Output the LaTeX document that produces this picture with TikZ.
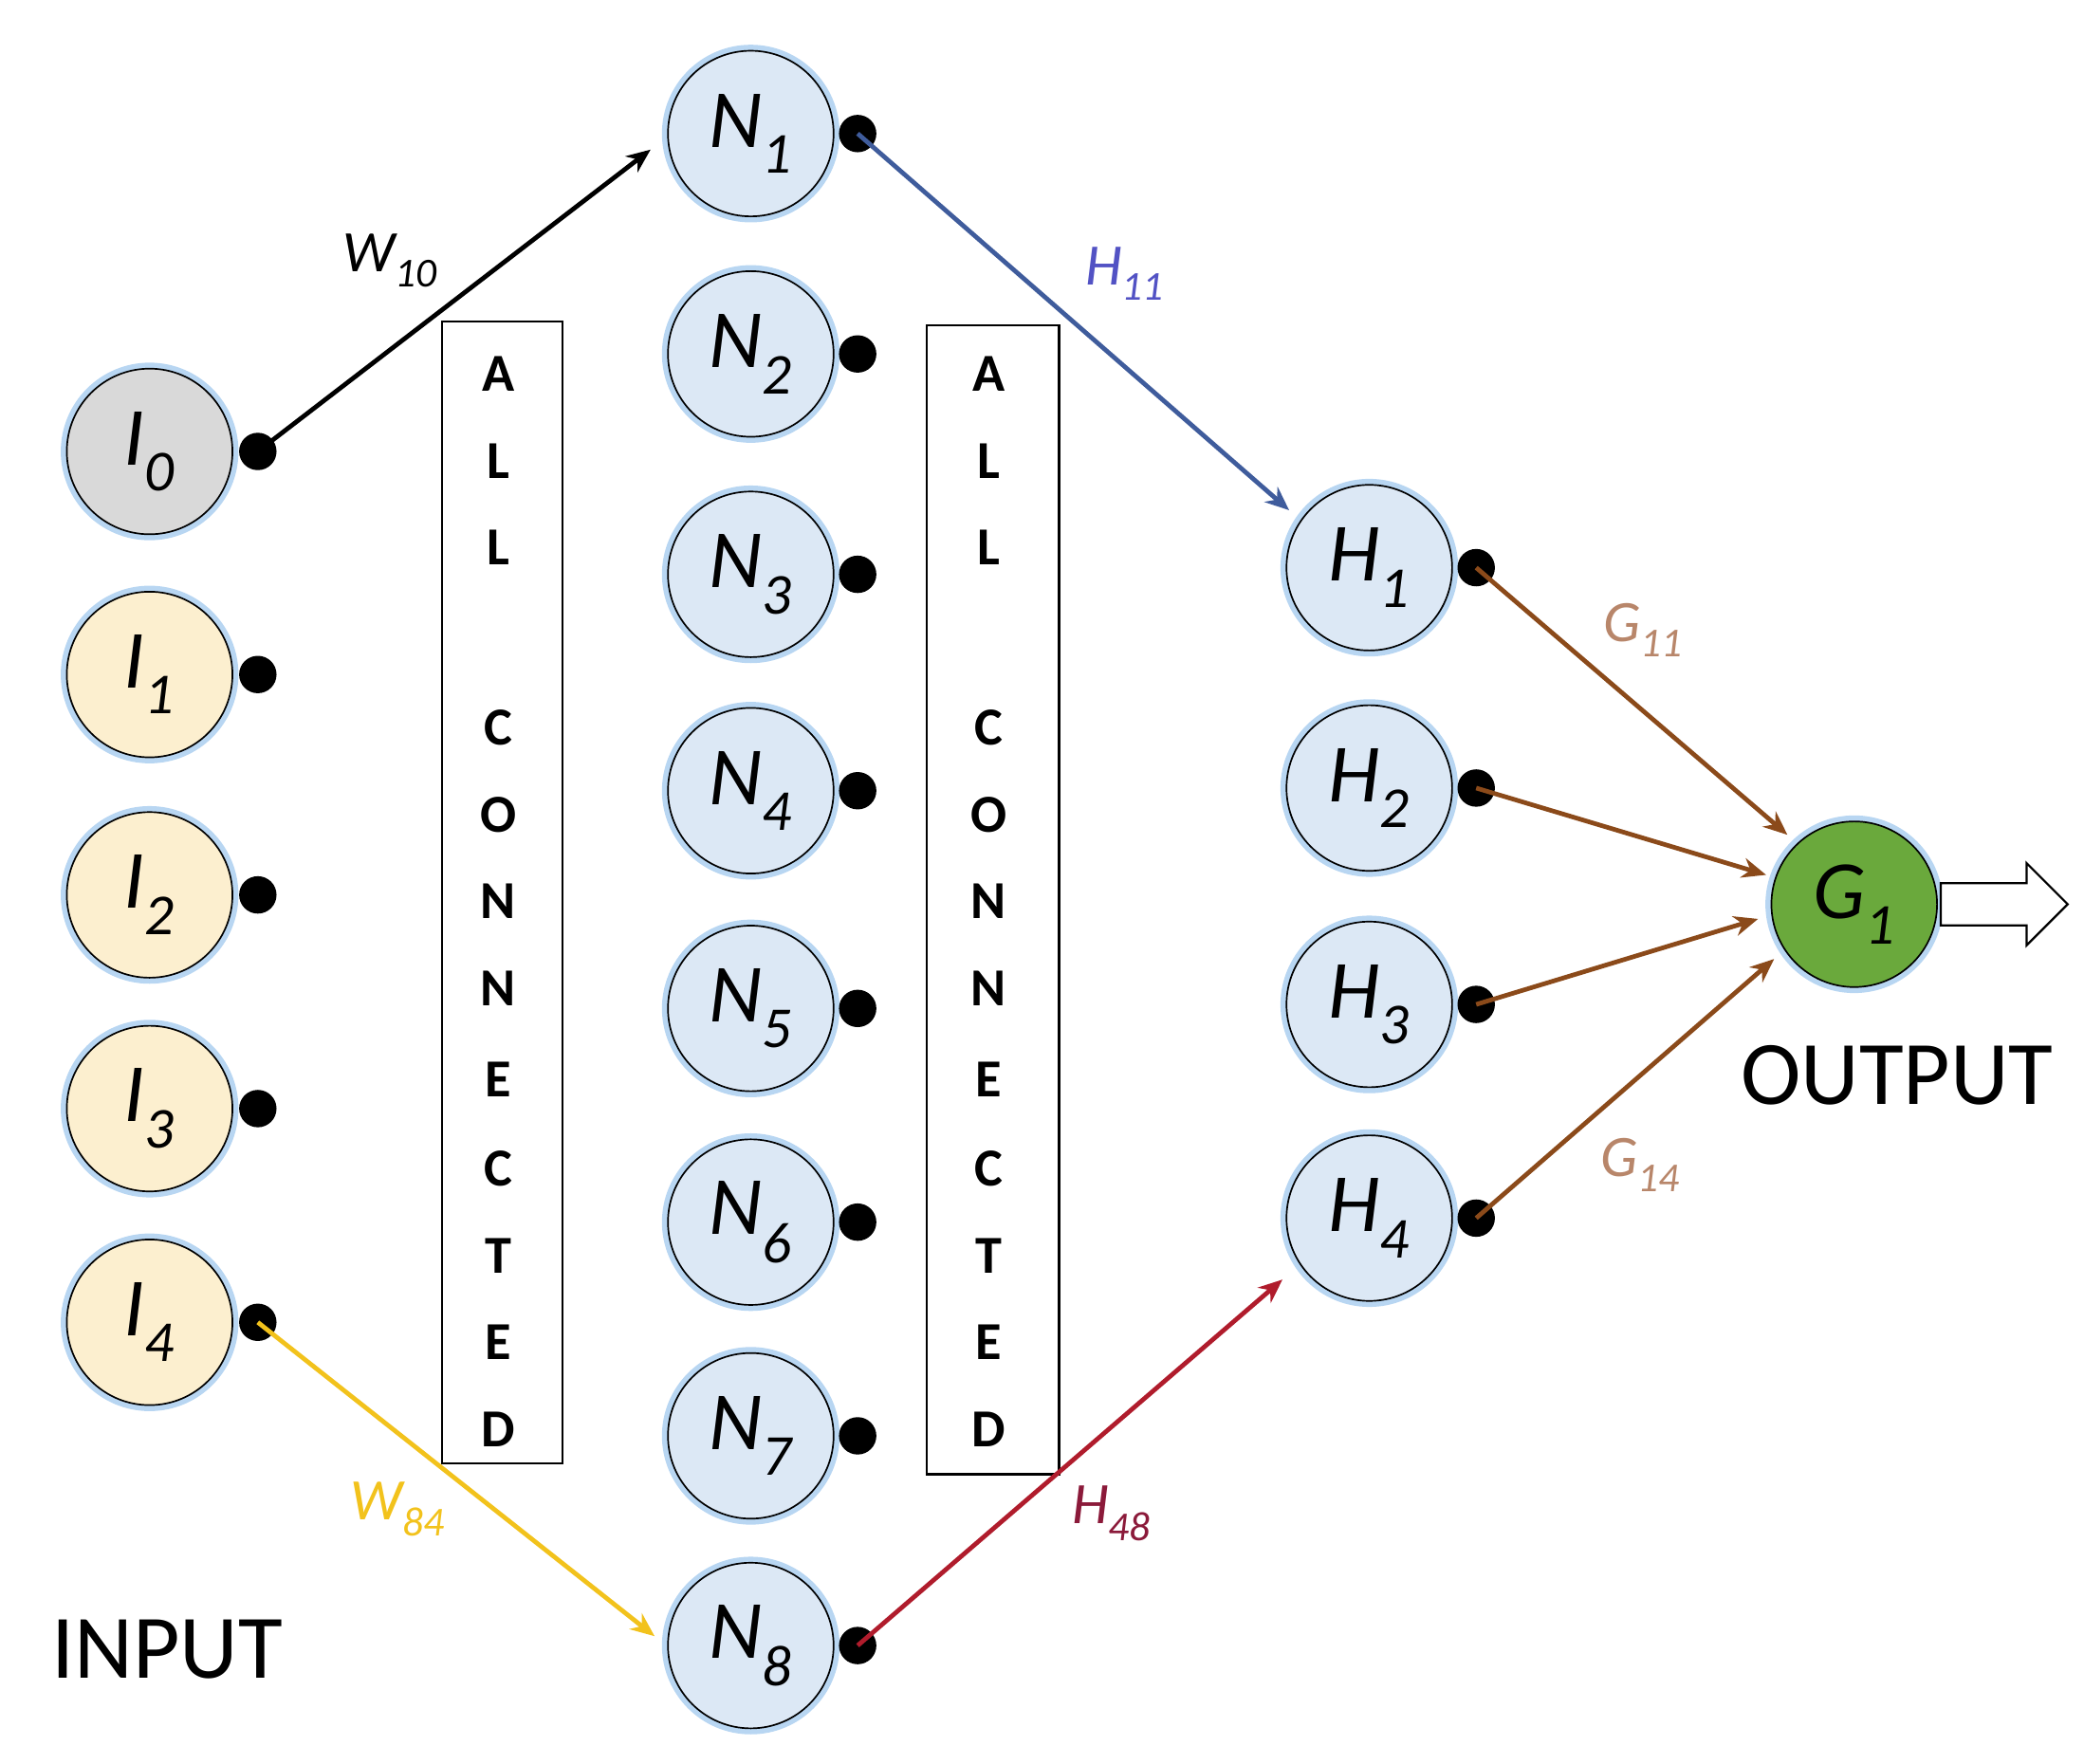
\documentclass[tikz,border=0pt]{standalone}
\usepackage{fontspec}
\setmainfont{Carlito}
\usetikzlibrary{arrows.meta,shapes.arrows}
\definecolor{nblue}{HTML}{DCE8F5}
\definecolor{glow}{HTML}{B8D6F2}
\definecolor{ngray}{HTML}{D9D9D9}
\definecolor{ncream}{HTML}{FCEFCF}
\definecolor{ngreen}{HTML}{6AA93C}
\definecolor{cblue}{HTML}{3F5C9C}
\definecolor{lblue}{HTML}{5252C4}
\definecolor{cgold}{HTML}{F2C21C}
\definecolor{cred}{HTML}{B01C2C}
\definecolor{lred}{HTML}{8B1A3A}
\definecolor{cbrown}{HTML}{8B4A1A}
\definecolor{ltan}{HTML}{B8866A}
\begin{document}
\begin{tikzpicture}[x=1pt,y=-1pt,
 neuron/.style={circle,minimum size=124pt,inner sep=0pt,draw=black,line width=1.2pt,
   font=\fontsize{62}{62}\selectfont\itshape,
   preaction={draw=glow,line width=9pt}},
 dot/.style={circle,fill=black,minimum size=28pt,inner sep=0pt},
 conn/.style={line width=3.4pt,-{Stealth[length=18pt,width=15pt]}},
 lbl/.style={font=\fontsize{44}{44}\selectfont\itshape},
 box/.style={draw=black,line width=1.6pt},
 let/.style={font=\fontsize{40}{40}\selectfont\bfseries}]
\useasboundingbox (0,0) rectangle (1560,1320);
% inputs
\foreach \i/\y/\c in {0/338/ngray,1/505/ncream,2/670/ncream,3/830/ncream,4/990/ncream}{
  \node[neuron,fill=\c] (I\i) at (112,\y) {I$_{\mathit{\i}}$};
  \node[dot] (dI\i) at (193,\y) {};}
% hidden N
\foreach \i/\y in {1/100,2/265,3/430,4/592,5/755,6/915,7/1075,8/1232}{
  \node[neuron,fill=nblue] (N\i) at (562,\y) {N$_{\mathit{\i}}$};
  \node[dot] (dN\i) at (642,\y) {};}
% hidden H
\foreach \i/\y in {1/425,2/590,3/752,4/912}{
  \node[neuron,fill=nblue] (H\i) at (1025,\y) {H$_{\mathit{\i}}$};
  \node[dot] (dH\i) at (1105,\y) {};}
\node[neuron,fill=ngreen] (G1) at (1388,677) {G$_{\mathit{1}}$};
\node[single arrow,draw=black,line width=1.6pt,fill=white,minimum height=95pt,
  inner xsep=0pt,inner ysep=15pt,single arrow head extend=15pt,anchor=west] (out) at (1452,677) {};
% boxes
\node[box,minimum width=90pt,minimum height=855pt,anchor=north west] (B1) at (330,240) {};
\node[box,minimum width=99pt,minimum height=860pt,anchor=north west] (B2) at (693,243) {};
\foreach \l/\y in {A/280,L/345,L/410,C/545,O/610,N/675,N/740,E/808,C/875,T/940,E/1005,D/1070}{
  \node[let] at (373,\y) {\l};
  \node[let] at (740,\y) {\l};}
% connectors
\coordinate (eN1) at (487,112);
\coordinate (eH1) at (965,382);
\coordinate (eN8) at (490,1225);
\coordinate (eH4) at (960,958);
\draw[conn,black] (dI0.center) -- (eN1);
\draw[conn,cblue] (dN1.center) -- (eH1);
\draw[conn,cgold] (dI4.center) -- (eN8);
\draw[conn,cred] (dN8.center) -- (eH4);
\coordinate (g1) at (1338,625);
\coordinate (g2) at (1322,655);
\coordinate (g3) at (1316,688);
\coordinate (g4) at (1328,718);
\foreach \i in {1,2,3,4}{\draw[conn,cbrown] (dH\i.center) -- (g\i);}
% labels
\node[lbl,black] (lW10) at (292,195) {W$_{\mathit{10}}$};
\node[lbl,lblue] (lH11) at (842,205) {H$_{\mathit{11}}$};
\node[lbl,ltan] (lG11) at (1230,472) {G$_{\mathit{11}}$};
\node[lbl,ltan] (lG14) at (1228,872) {G$_{\mathit{14}}$};
\node[lbl,cgold] (lW84) at (298,1130) {W$_{\mathit{84}}$};
\node[lbl,lred] (lH48) at (832,1133) {H$_{\mathit{48}}$};
\node[font=\fontsize{68}{68}\selectfont] (inp) at (125,1235) {INPUT};
\node[font=\fontsize{68}{68}\selectfont] (outp) at (1420,805) {OUTPUT};
\end{tikzpicture}
\end{document}
